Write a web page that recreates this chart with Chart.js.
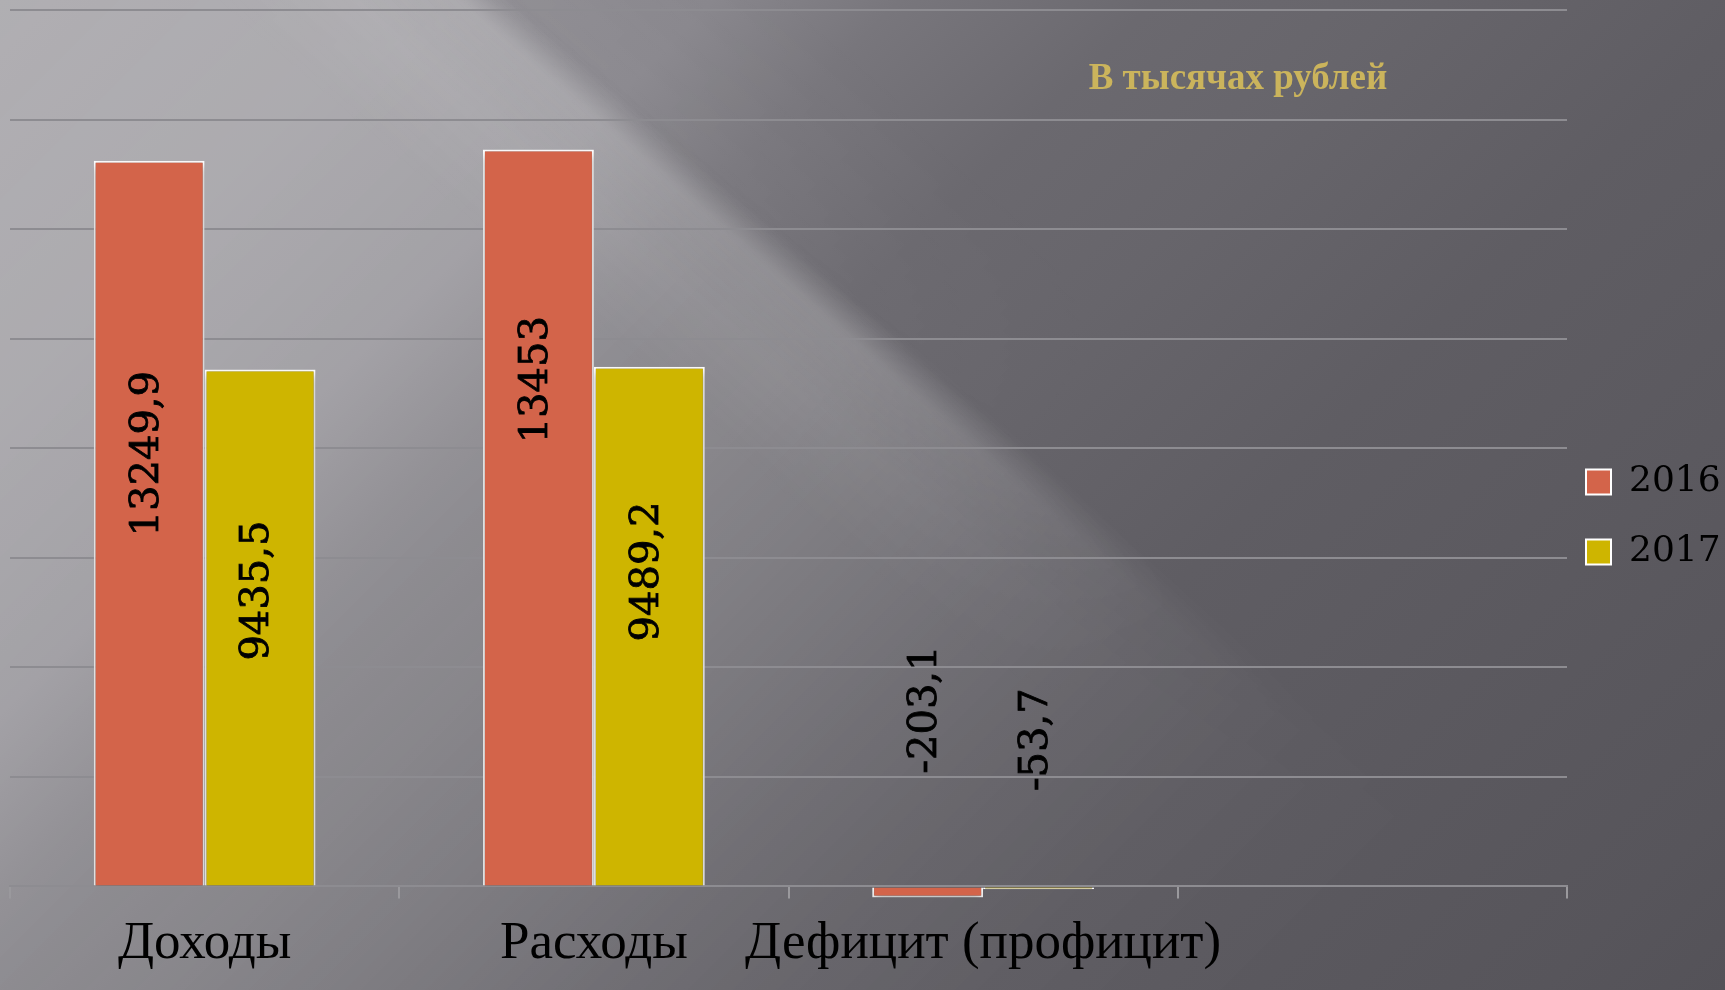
<!DOCTYPE html>
<html><head><meta charset="utf-8">
<script src="https://cdn.jsdelivr.net/npm/chart.js@4.4.1/dist/chart.umd.min.js"></script>
<style>html,body{margin:0;padding:0;background:#6e6c72;overflow:hidden}</style>
</head><body>
<canvas id="c" width="1725" height="990"></canvas>
<script>
// ---- data ----
const categories = ['Доходы', 'Расходы', 'Дефицит (профицит)', ''];
const seriesNames = ['2016', '2017'];
const values2016 = [13249.9, 13453, -203.1, null];
const values2017 = [9435.5, 9489.2, -53.7, null];
const yMin = 0, yMax = 16000, yStep = 2000;
const unitNote = 'В тысячах рублей';

// ---- style / placement (not data) ----
const seriesColors = ['#D3644A', '#CEB500'];
const labelAnchors = [[7900, 9250, 3230, null], [5400, 5750, 2680, null]];
const gridColor = '#8d8c91';

const fmt = v => String(v).replace('.', ',');
const clamp01 = t => Math.min(1, Math.max(0, t));

// gradient helpers: q = position across the diagonal ridge, s = distance from top-left
function qGrad(c, stops, rgb) {
  const g = c.createLinearGradient(-525, 603, 787, -905);
  stops.forEach(([q, a]) => g.addColorStop(clamp01((q + 800) / 2000), `rgba(${rgb},${a})`));
  return g;
}
function sGrad(c, stops, rgb) {
  const g = c.createLinearGradient(0, 0, 1357.5, 1357.5);
  stops.forEach(([s, a]) => g.addColorStop(clamp01(s / 2715), `rgba(${rgb},${a})`));
  return g;
}
function maskedLayer(ctx, W, H, qStops, sStops) {
  const oc = document.createElement('canvas');
  oc.width = W; oc.height = H;
  const o = oc.getContext('2d');
  o.fillStyle = qGrad(o, qStops, '255,255,255');
  o.fillRect(0, 0, W, H);
  o.globalCompositeOperation = 'destination-in';
  o.fillStyle = sGrad(o, sStops, '0,0,0');
  o.fillRect(0, 0, W, H);
  ctx.drawImage(oc, 0, 0);
}

const bgPlugin = {
  id: 'bg',
  beforeDraw(chart) {
    const ctx = chart.ctx, W = chart.width, H = chart.height;
    ctx.save();
    const g = ctx.createLinearGradient(0, 0, 1357.5, 1357.5);
    [[0, '#969499'], [715, '#88868c'], [900, '#78767c'], [1155, '#6b696f'], [1400, '#67656b'],
     [1760, '#5f5d63'], [2530, '#57555b'], [2715, '#545258']]
      .forEach(([s, c]) => g.addColorStop(clamp01(s / 2715), c));
    ctx.fillStyle = g;
    ctx.fillRect(0, 0, W, H);
    // lighter wedge on the upper-left side of the ridge
    maskedLayer(ctx, W, H,
      [[-900, 1], [230, 1], [300, 0.75], [335, 0], [1300, 0]],
      [[0, 0.25], [400, 0.27], [1000, 0.19], [1150, 0.2], [1600, 0.09], [2000, 0.02], [2300, 0], [2715, 0]]);
    // soft highlight along the ridge
    maskedLayer(ctx, W, H,
      [[-900, 0], [140, 0], [260, 0.07], [305, 0.11], [340, 0], [1300, 0]],
      [[0, 0.7], [500, 1], [1200, 1], [1800, 0], [2715, 0]]);
    // gentle shade just beyond the ridge near the top
    maskedLayer(ctx, W, H,
      [[-900, 0], [320, 0], [345, 0.06], [520, 0], [1300, 0]],
      [[0, 1], [900, 0.6], [1500, 0], [2715, 0]]);
    ctx.restore();
  }
};

const shadowPlugin = {
  id: 'barShadow',
  beforeDatasetDraw(chart) {
    const ctx = chart.ctx;
    ctx.save();
    ctx.shadowColor = 'rgba(0,0,0,0.35)';
    ctx.shadowBlur = 8;
    ctx.shadowOffsetY = 4;
  },
  afterDatasetDraw(chart) { chart.ctx.restore(); }
};

const labelPlugin = {
  id: 'barLabels',
  afterDatasetsDraw(chart) {
    const ctx = chart.ctx, yS = chart.scales.y;
    chart.data.datasets.forEach((ds, di) => {
      const meta = chart.getDatasetMeta(di);
      meta.data.forEach((bar, i) => {
        const v = ds.data[i];
        if (v == null) return;
        const y = yS.getPixelForValue(labelAnchors[di][i]);
        ctx.save();
        ctx.translate(bar.x - 2, y);
        ctx.rotate(-Math.PI / 2);
        ctx.font = '40px "DejaVu Serif"';
        ctx.fillStyle = '#000';
        ctx.strokeStyle = '#000';
        ctx.lineWidth = 0.8;
        ctx.textAlign = 'center';
        ctx.textBaseline = 'middle';
        ctx.fillText(fmt(v), 0, 0);
        ctx.strokeText(fmt(v), 0, 0);
        ctx.restore();
      });
    });
  }
};

const notePlugin = {
  id: 'unitNote',
  afterDraw(chart) {
    const ctx = chart.ctx;
    ctx.save();
    ctx.font = 'bold 37px "Liberation Serif"';
    ctx.fillStyle = '#CBB45C';
    ctx.textAlign = 'center';
    ctx.textBaseline = 'alphabetic';
    ctx.fillText(unitNote, 1238, 89);
    ctx.restore();
  }
};

const legendNudge = {
  id: 'legendNudge',
  afterLayout(chart) {
    const lg = chart.legend;
    if (!lg) return;
    const dx = -15, dy = 17;
    lg.left += dx; lg.right = chart.width; lg.width = lg.right - lg.left;
    lg.top += dy; lg.bottom += dy;
  }
};

new Chart(document.getElementById('c'), {
  type: 'bar',
  data: {
    labels: categories,
    datasets: [
      { label: seriesNames[0], data: values2016, backgroundColor: seriesColors[0], borderColor: '#ffffff', borderWidth: 2, clip: false },
      { label: seriesNames[1], data: values2017, backgroundColor: seriesColors[1], borderColor: '#ffffff', borderWidth: 2, clip: false }
    ]
  },
  options: {
    responsive: false,
    animation: false,
    devicePixelRatio: 1,
    layout: { padding: { top: 10, left: 10, right: 0, bottom: 0 } },
    datasets: { bar: { barPercentage: 1, categoryPercentage: 0.57 } },
    plugins: {
      tooltip: { enabled: false },
      title: { display: false },
      legend: {
        position: 'right',
        maxWidth: 158,
        labels: { boxWidth: 25, boxHeight: 25, padding: 34, color: '#000', font: { family: 'DejaVu Serif', size: 36 } }
      }
    },
    scales: {
      x: {
        grid: { display: true, drawOnChartArea: false, drawTicks: true, tickLength: 12, color: '#9a999d', lineWidth: 2, offset: true },
        border: { display: true, color: gridColor, width: 2 },
        ticks: { color: '#000', font: { family: 'Liberation Serif', size: 53 }, maxRotation: 0, minRotation: 0, autoSkip: false, padding: 14 }
      },
      y: {
        min: yMin, max: yMax,
        ticks: { display: false, stepSize: yStep },
        grid: { color: gridColor, lineWidth: 2, drawTicks: false },
        border: { display: false }
      }
    }
  },
  plugins: [bgPlugin, shadowPlugin, labelPlugin, notePlugin, legendNudge]
});
</script>
</body></html>
